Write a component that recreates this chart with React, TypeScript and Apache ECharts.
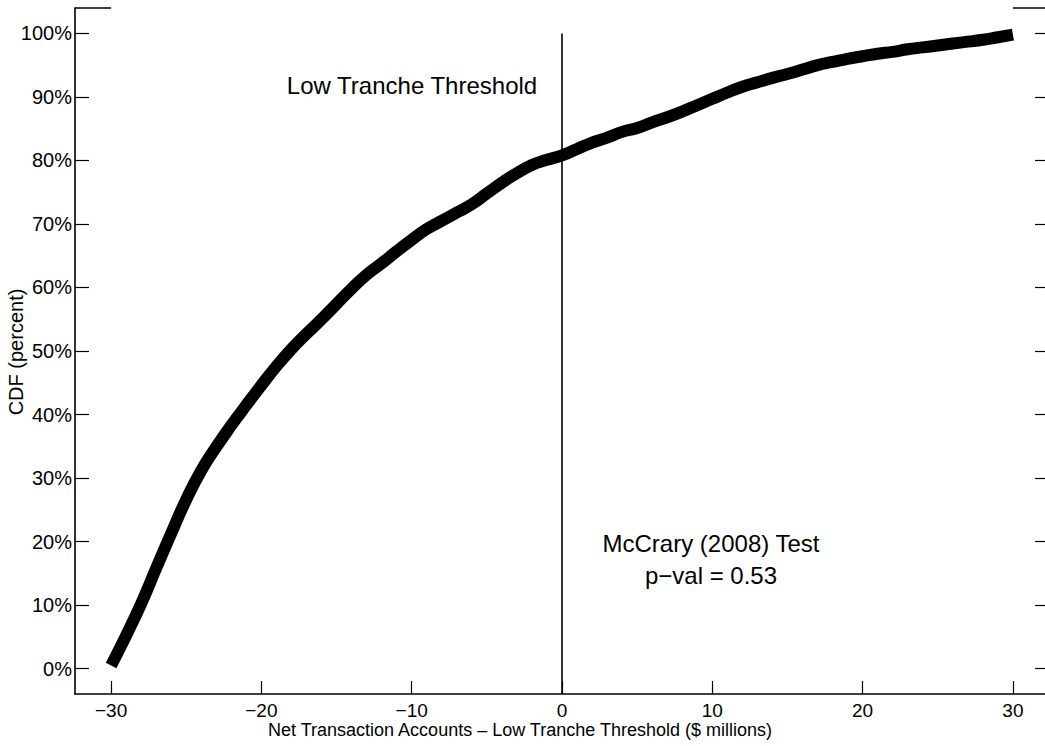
import React, { useEffect, useRef } from "react";
import * as echarts from "echarts";

const xValues = [
  -30, -29, -28, -27, -26, -25, -24, -23, -22, -21, -20, -19, -18, -17, -16, -15,
  -14, -13, -12, -11, -10, -9, -8, -7, -6, -5, -4, -3, -2, -1, 0, 1, 2, 3, 4, 5,
  6, 7, 8, 9, 10, 11, 12, 13, 14, 15, 16, 17, 18, 19, 20, 21, 22, 23, 24, 25, 26,
  27, 28, 29, 30,
];
const cdfValues = [
  0.5, 5.2, 10.2, 15.8, 21.3, 26.6, 31.2, 34.9, 38.3, 41.5, 44.6, 47.6, 50.3,
  52.7, 55.0, 57.4, 59.8, 62.0, 63.8, 65.7, 67.5, 69.2, 70.5, 71.8, 73.1, 74.8,
  76.5, 78.0, 79.3, 80.1, 80.8, 81.8, 82.8, 83.6, 84.5, 85.1, 86.0, 86.8, 87.7,
  88.7, 89.7, 90.7, 91.6, 92.3, 93.0, 93.6, 94.3, 95.0, 95.5, 96.0, 96.4, 96.8,
  97.1, 97.5, 97.8, 98.1, 98.4, 98.7, 99.0, 99.4, 99.8,
];
const xTicks = [-30, -20, -10, 0, 10, 20, 30];
const yTicks = [0, 10, 20, 30, 40, 50, 60, 70, 80, 90, 100];
const xMin = -32.4;
const xMax = 32.4;
const yMin = -4;
const yMax = 104;
const thresholdX = 0;

const FONT = "'Liberation Sans', Arial, Helvetica, sans-serif";

export default function App() {
  const ref = useRef<HTMLDivElement>(null);
  useEffect(() => {
    document.body.style.margin = "0";
    const chart = echarts.init(ref.current!, null, { renderer: "svg" });
    const fmtX = (v: number) => (v < 0 ? "\u2212" + Math.abs(v) : String(v));
    chart.setOption({
      animation: false,
      backgroundColor: "#ffffff",
      textStyle: { fontFamily: FONT },
      grid: {
        left: 75,
        top: 8,
        right: 11,
        bottom: 52,
        containLabel: false,
        outerBoundsMode: "none",
      },
      xAxis: {
        type: "value",
        min: xMin,
        max: xMax,
        axisLine: { show: true, onZero: false, lineStyle: { color: "#000", width: 1.6 } },
        axisTick: {
          show: true,
          inside: true,
          length: 13,
          customValues: xTicks,
          lineStyle: { color: "#000", width: 1.2 },
        },
        axisLabel: {
          customValues: xTicks,
          formatter: fmtX,
          fontSize: 19,
          color: "#000",
          margin: 7,
          fontFamily: FONT,
        },
        splitLine: { show: false },
      },
      yAxis: [
        {
          type: "value",
          min: yMin,
          max: yMax,
          position: "left",
          axisLine: { show: true, onZero: false, lineStyle: { color: "#000", width: 1.6 } },
          axisTick: {
            show: true,
            inside: true,
            length: 14,
            customValues: yTicks,
            lineStyle: { color: "#000", width: 1.2 },
          },
          axisLabel: {
            customValues: yTicks,
            formatter: (v: number) => v + "%",
            fontSize: 20,
            color: "#000",
            margin: 3,
            fontFamily: FONT,
          },
          splitLine: { show: false },
        },
        {
          type: "value",
          min: yMin,
          max: yMax,
          position: "right",
          axisLine: { show: true, onZero: false, lineStyle: { color: "#000", width: 1.6 } },
          axisTick: {
            show: true,
            inside: true,
            length: 14,
            customValues: yTicks,
            lineStyle: { color: "#000", width: 1.2 },
          },
          axisLabel: { show: false },
          splitLine: { show: false },
        },
      ],
      series: [
        {
          type: "line",
          data: xValues.map((x, i) => [x, cdfValues[i]]),
          smooth: true,
          showSymbol: false,
          symbol: "none",
          lineStyle: { color: "#000", width: 12 },
          z: 3,
          markLine: {
            silent: true,
            symbol: "none",
            label: { show: false },
            lineStyle: { color: "#000", width: 1.6, type: "solid" },
            data: [
              [{ coord: [thresholdX, yMin] }, { coord: [thresholdX, 100] }],
              [{ coord: [xMin, yMax] }, { coord: [xTicks[0], yMax] }],
              [{ coord: [xTicks[xTicks.length - 1], yMax] }, { coord: [xMax, yMax] }],
            ],
          },
        },
      ],
      graphic: [
        {
          type: "text",
          x: 16,
          y: 352,
          rotation: Math.PI / 2,
          style: {
            text: "CDF (percent)",
            fontSize: 20,
            fontFamily: FONT,
            fill: "#000",
            textAlign: "center",
            textVerticalAlign: "middle",
          },
        },
        {
          type: "text",
          x: 412,
          y: 85,
          style: {
            text: "Low Tranche Threshold",
            fontSize: 24,
            fontFamily: FONT,
            fill: "#000",
            textAlign: "center",
            textVerticalAlign: "middle",
          },
        },
        {
          type: "text",
          x: 711,
          y: 543,
          style: {
            text: "McCrary (2008) Test",
            fontSize: 24,
            fontFamily: FONT,
            fill: "#000",
            textAlign: "center",
            textVerticalAlign: "middle",
          },
        },
        {
          type: "text",
          x: 711,
          y: 575,
          style: {
            text: "p\u2212val = 0.53",
            fontSize: 24,
            fontFamily: FONT,
            fill: "#000",
            textAlign: "center",
            textVerticalAlign: "middle",
          },
        },
        {
          type: "text",
          x: 520,
          y: 730,
          style: {
            text: "Net Transaction Accounts \u2013 Low Tranche Threshold ($ millions)",
            fontSize: 18,
            fontFamily: FONT,
            fill: "#000",
            textAlign: "center",
            textVerticalAlign: "middle",
          },
        },
      ],
    });
    return () => chart.dispose();
  }, []);
  return (
    <div style={{ width: 1045, height: 746, overflow: "hidden" }}>
      <div ref={ref} style={{ width: 1060, height: 746 }} />
    </div>
  );
}
